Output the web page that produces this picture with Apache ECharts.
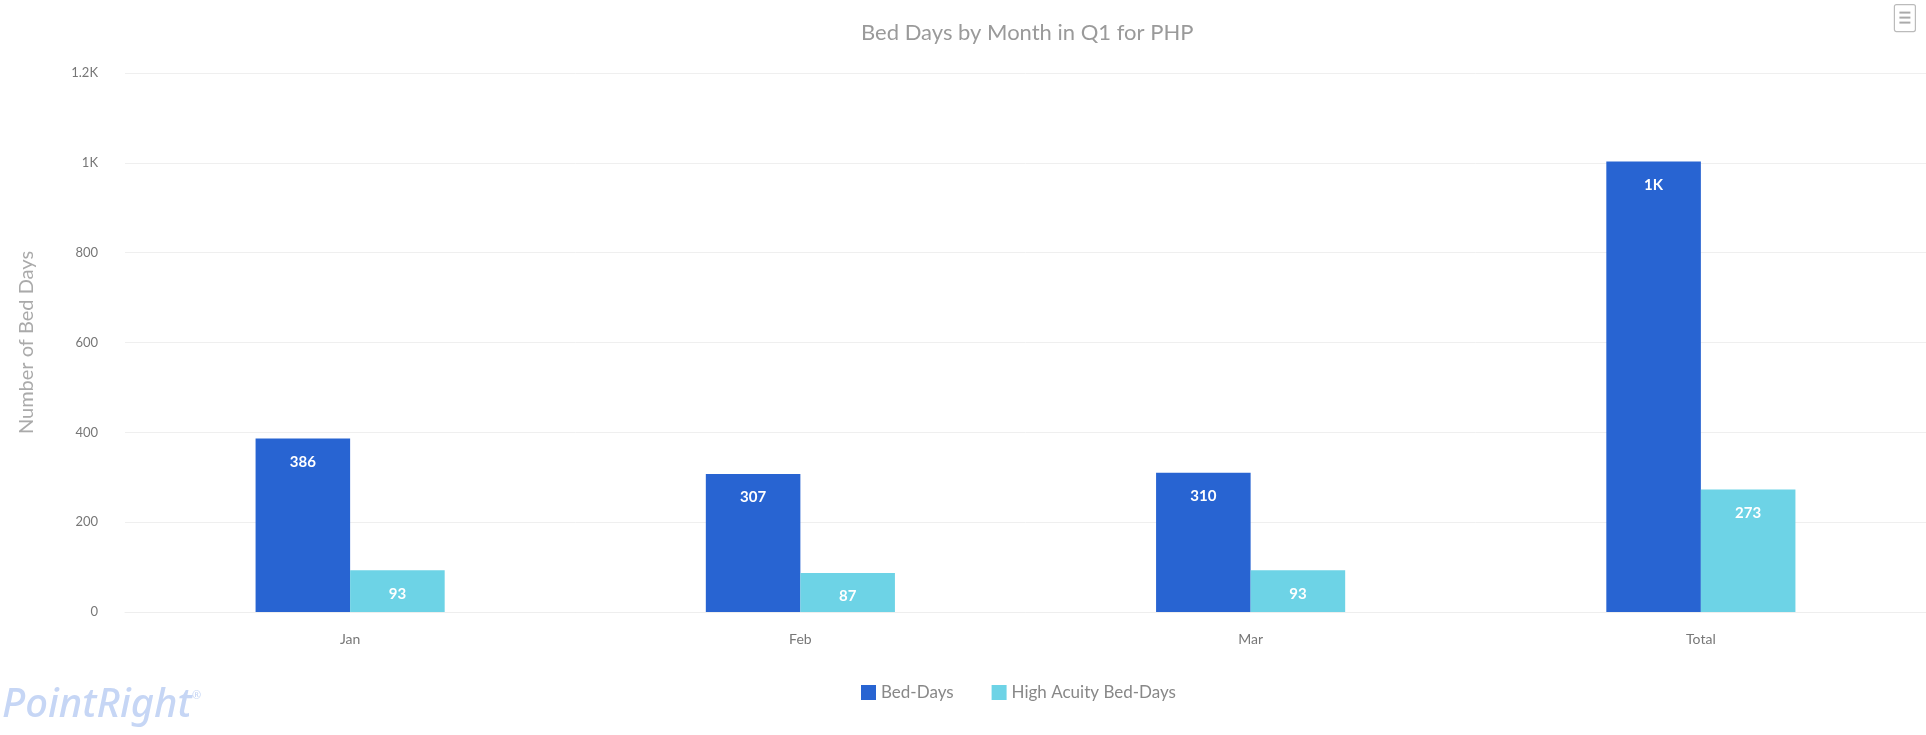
<!DOCTYPE html>
<html>
<head>
<meta charset="utf-8">
<script src="https://cdn.jsdelivr.net/npm/echarts@6/dist/echarts.min.js"></script>
<style>
html,body{margin:0;padding:0;background:#fff;}
#main{width:1926px;height:735px;}
</style>
</head>
<body>
<div id="main"></div>
<script>
const titleText = 'Bed Days by Month in Q1 for PHP';
const categories = ['Jan', 'Feb', 'Mar', 'Total'];
const seriesNames = ['Bed-Days', 'High Acuity Bed-Days'];
const bedDays = [386, 307, 310, 1003];
const highAcuity = [93, 87, 93, 273];
const yAxisName = 'Number of Bed Days';
const yTicks = [0, 200, 400, 600, 800, 1000, 1200];

function kFmt(v) {
  if (v >= 1000) {
    const k = Math.round(v / 100) / 10;
    return k + 'K';
  }
  return String(v);
}
function kLabel(v) {
  if (v >= 1000) return Math.round(v / 1000) + 'K';
  return String(v);
}

const FONT = 'Lato, "Open Sans", sans-serif';
const chart = echarts.init(document.getElementById('main'));
const labelStyle = {
  show: true,
  position: 'insideTop',
  distance: 16,
  color: '#fff',
  fontWeight: 'bold',
  fontSize: 15,
  fontFamily: FONT,
  formatter: p => kLabel(p.value)
};
chart.setOption({
  animation: false,
  textStyle: { fontFamily: FONT },
  title: {
    text: titleText,
    left: 856,
    top: 17,
    textStyle: { color: '#9a9a9a', fontSize: 22, fontWeight: 'normal', fontFamily: FONT }
  },
  legend: {
    data: seriesNames,
    left: 856,
    top: 679,
    icon: 'rect',
    itemWidth: 15,
    itemHeight: 15,
    itemGap: 38,
    itemTextGap: 12,
    textStyle: { color: '#888', fontSize: 17, fontFamily: FONT }
  },
  grid: { left: 125, right: 0, top: 73, bottom: 123 },
  xAxis: {
    type: 'category',
    data: categories,
    axisLine: { show: true, lineStyle: { color: '#eeeeee' } },
    axisTick: { show: false },
    axisLabel: { color: '#777', fontSize: 14, margin: 20, fontFamily: FONT }
  },
  yAxis: {
    type: 'value',
    min: yTicks[0],
    max: yTicks[yTicks.length - 1],
    interval: 200,
    name: yAxisName,
    nameLocation: 'middle',
    nameGap: 88,
    nameTextStyle: { color: '#aaa', fontSize: 20, fontFamily: FONT },
    axisLine: { show: false },
    axisTick: { show: false },
    axisLabel: { color: '#777', fontSize: 13, margin: 27, fontFamily: FONT, formatter: kFmt },
    splitLine: { lineStyle: { color: '#efefef', width: 1 } }
  },
  series: [
    {
      name: seriesNames[0],
      type: 'bar',
      data: bedDays,
      barWidth: '21%',
      barGap: '0%',
      itemStyle: { color: '#2864d2' },
      label: labelStyle
    },
    {
      name: seriesNames[1],
      type: 'bar',
      data: highAcuity,
      barWidth: '21%',
      barGap: '0%',
      itemStyle: { color: '#6dd3e6' },
      label: labelStyle
    }
  ],
  graphic: [
    {
      type: 'text',
      left: 2,
      top: 686,
      style: { text: 'PointRight', fill: '#c6d6f5', font: 'italic 500 40px "Noto Sans", sans-serif' }
    },
    {
      type: 'text',
      left: 192,
      top: 690,
      style: { text: '®', fill: '#c6d6f5', font: '11px "Noto Sans", sans-serif' }
    },
    {
      type: 'group',
      right: 10,
      top: 4,
      children: [
        { type: 'rect', shape: { x: 0, y: 0, width: 21, height: 27, r: 2 }, style: { fill: '#fff', stroke: '#bbb', lineWidth: 1.2 } },
        { type: 'line', shape: { x1: 5, y1: 8, x2: 16, y2: 8 }, style: { stroke: '#aaa', lineWidth: 2 } },
        { type: 'line', shape: { x1: 5, y1: 13, x2: 16, y2: 13 }, style: { stroke: '#aaa', lineWidth: 2 } },
        { type: 'line', shape: { x1: 5, y1: 18, x2: 16, y2: 18 }, style: { stroke: '#aaa', lineWidth: 2 } }
      ]
    }
  ]
});
</script>
</body>
</html>
